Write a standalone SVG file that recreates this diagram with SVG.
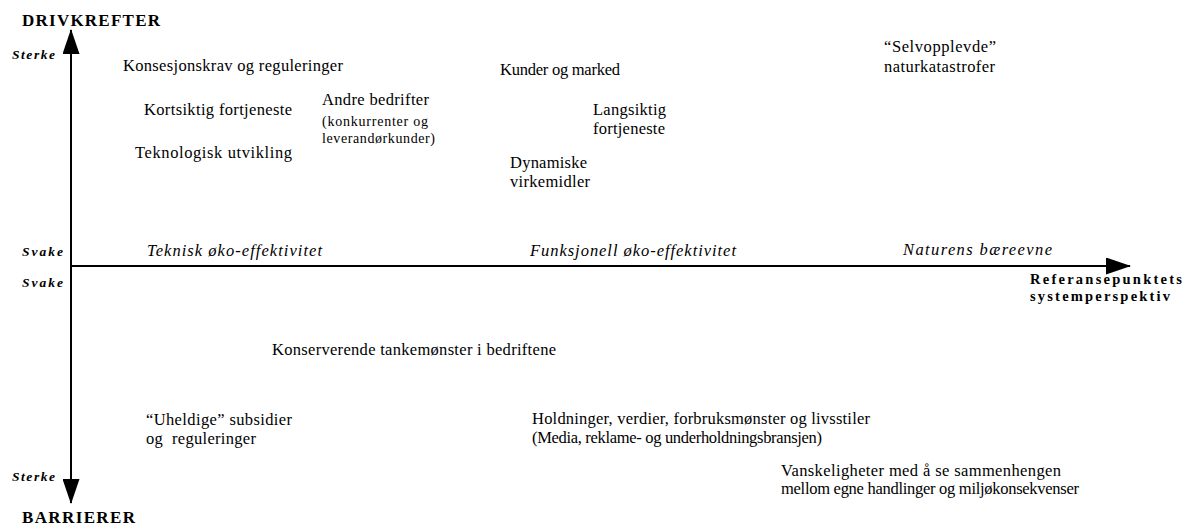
<svg xmlns="http://www.w3.org/2000/svg" width="1188" height="527" viewBox="0 0 1188 527">
<style>
text{font-family:'Liberation Serif','Tinos','DejaVu Serif',serif;fill:#000}
.t{font-size:16.5px}
.s{font-size:14px}
.bi{font-size:13.5px;font-weight:bold;font-style:italic}
.b{font-size:17px;font-weight:bold}
.b2{font-size:14.5px;font-weight:bold}
.it{font-size:16.5px;font-style:italic}
.ax{stroke:#000;stroke-width:2;fill:none}
</style>
<defs>
<marker id="ah" viewBox="0 0 25 17" refX="24" refY="8.5" markerWidth="25" markerHeight="17" markerUnits="userSpaceOnUse" orient="auto">
<path d="M0,0 L25,8.5 L0,17 Z" fill="#000"/>
</marker>
</defs>
<g id="connectors">
<line class="ax" x1="71" y1="266" x2="71" y2="30" marker-end="url(#ah)"/>
<line class="ax" x1="71" y1="266" x2="71" y2="503" marker-end="url(#ah)"/>
<line class="ax" x1="70" y1="266" x2="1130" y2="266" marker-end="url(#ah)"/>
</g>
<g id="axis-labels">
<text class="b" x="22" y="26" textLength="138" lengthAdjust="spacing">DRIVKREFTER</text>
<text class="b" x="22" y="523" textLength="113" lengthAdjust="spacing">BARRIERER</text>
<text class="bi" x="12" y="59" textLength="43" lengthAdjust="spacing">Sterke</text>
<text class="bi" x="22" y="256" textLength="41" lengthAdjust="spacing">Svake</text>
<text class="bi" x="22" y="287" textLength="41" lengthAdjust="spacing">Svake</text>
<text class="bi" x="12" y="481" textLength="43" lengthAdjust="spacing">Sterke</text>
<text class="b2" x="1030" y="284" textLength="152" lengthAdjust="spacing">Referansepunktets</text>
<text class="b2" x="1030" y="301" textLength="140" lengthAdjust="spacing">systemperspektiv</text>
</g>
<g id="scale-labels">
<text class="it" x="147" y="256" textLength="175" lengthAdjust="spacing">Teknisk øko-effektivitet</text>
<text class="it" x="530" y="256" textLength="206" lengthAdjust="spacing">Funksjonell øko-effektivitet</text>
<text class="it" x="903" y="255" textLength="149" lengthAdjust="spacing">Naturens bæreevne</text>
</g>
<g id="n-konsesjon"><text class="t" x="123" y="71" textLength="220" lengthAdjust="spacing">Konsesjonskrav og reguleringer</text></g>
<g id="n-kortsiktig"><text class="t" x="144" y="115" textLength="148" lengthAdjust="spacing">Kortsiktig fortjeneste</text></g>
<g id="n-teknologisk"><text class="t" x="135" y="158" textLength="157" lengthAdjust="spacing">Teknologisk utvikling</text></g>
<g id="n-andre"><text class="t" x="322" y="105" textLength="107" lengthAdjust="spacing">Andre bedrifter</text>
<text class="s" x="322" y="126" textLength="106" lengthAdjust="spacing">(konkurrenter og</text>
<text class="s" x="322" y="143" textLength="113" lengthAdjust="spacing">leverandørkunder)</text></g>
<g id="n-kunder"><text class="t" x="500" y="75" textLength="120" lengthAdjust="spacing">Kunder og marked</text></g>
<g id="n-langsiktig"><text class="t" x="593" y="115" textLength="73" lengthAdjust="spacing">Langsiktig</text>
<text class="t" x="593" y="134" textLength="72" lengthAdjust="spacing">fortjeneste</text></g>
<g id="n-dynamiske"><text class="t" x="510" y="168" textLength="77" lengthAdjust="spacing">Dynamiske</text>
<text class="t" x="510" y="187" textLength="80" lengthAdjust="spacing">virkemidler</text></g>
<g id="n-natur"><text class="t" x="884" y="52" textLength="112" lengthAdjust="spacing">“Selvopplevde”</text>
<text class="t" x="884" y="72" textLength="111" lengthAdjust="spacing">naturkatastrofer</text></g>
<g id="n-konserverende"><text class="t" x="272" y="355" textLength="284" lengthAdjust="spacing">Konserverende tankemønster i bedriftene</text></g>
<g id="n-uheldige"><text class="t" x="146" y="425" textLength="146" lengthAdjust="spacing">“Uheldige” subsidier</text>
<text class="t" x="146" y="444" textLength="110" lengthAdjust="spacing" xml:space="preserve">og  reguleringer</text></g>
<g id="n-holdninger"><text class="t" x="532" y="424" textLength="338" lengthAdjust="spacing">Holdninger, verdier, forbruksmønster og livsstiler</text>
<text class="t" x="532" y="443" textLength="290" lengthAdjust="spacing">(Media, reklame- og underholdningsbransjen)</text></g>
<g id="n-vanskeligheter"><text class="t" x="781" y="476" textLength="280" lengthAdjust="spacing">Vanskeligheter med å se sammenhengen</text>
<text class="t" x="781" y="494" textLength="298" lengthAdjust="spacing">mellom egne handlinger og miljøkonsekvenser</text></g>
</svg>
